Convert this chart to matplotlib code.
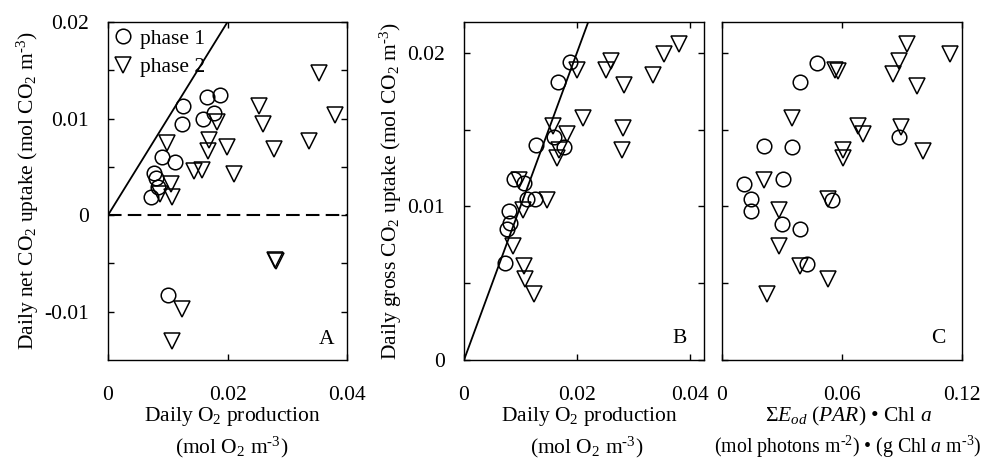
import numpy as np
import matplotlib
matplotlib.use('Agg')
import matplotlib.pyplot as plt

plt.rcParams['font.family'] = ['Liberation Serif', 'DejaVu Serif']
plt.rcParams['mathtext.fontset'] = 'custom'
plt.rcParams['mathtext.rm'] = 'Liberation Serif'
plt.rcParams['mathtext.it'] = 'Liberation Serif:italic'
plt.rcParams['mathtext.default'] = 'rm'

#---------------------------------------- data ----------------------------------------
# Panel A: daily O2 production vs daily net CO2 uptake
a_o2_p1 = [0.01256, 0.01244, 0.0166, 0.01878, 0.01767, 0.01589, 0.00911, 0.01117,
           0.00767, 0.008, 0.00839, 0.00717, 0.01006]
a_net_p1 = [0.0113, 0.0094, 0.01226, 0.01244, 0.0106, 0.00991, 0.00604, 0.00553,
            0.00432, 0.0038, 0.00294, 0.00183, -0.00829]
a_o2_p2 = [0.01822, 0.01683, 0.01672, 0.01989, 0.00989, 0.01439, 0.01578, 0.02106,
           0.01061, 0.00867, 0.01072, 0.02522, 0.02589, 0.02783, 0.03356, 0.03533,
           0.038, 0.0279, 0.0281, 0.01244, 0.01078]
a_net_p2 = [0.00967, 0.00777, 0.00663, 0.00701, 0.00743, 0.00456, 0.00466, 0.00425,
            0.00318, 0.00218, 0.00183, 0.0113, 0.00943, 0.00684, 0.00767, 0.01475,
            0.01036, -0.00468, -0.00478, -0.00967, -0.01303]

# Panel B: daily O2 production vs daily gross CO2 uptake
b_o2_p1 = [0.01876, 0.01658, 0.01274, 0.01593, 0.01776, 0.0089, 0.01062, 0.0112,
           0.01257, 0.00796, 0.00814, 0.00767, 0.00726]
b_gross_p1 = [0.01942, 0.01812, 0.0140, 0.0145, 0.01385, 0.0118, 0.01151, 0.01045,
              0.01045, 0.0097, 0.00892, 0.00855, 0.00632]
b_o2_p2 = [0.01994, 0.02608, 0.02507, 0.02832, 0.0335, 0.0354, 0.038, 0.02112,
           0.02808, 0.0279, 0.0158, 0.01817, 0.01687, 0.01652, 0.00973, 0.01463,
           0.0105, 0.00873, 0.01062, 0.0108, 0.01239]
b_gross_p2 = [0.01887, 0.01948, 0.01887, 0.0179, 0.01857, 0.01991, 0.02056, 0.01573,
              0.0151, 0.01364, 0.01526, 0.01472, 0.01368, 0.01316, 0.01169, 0.01043,
              0.00978, 0.0074, 0.0061, 0.0053, 0.00429]

# Panel C: sum Eod(PAR) * Chl a vs daily gross CO2 uptake
c_light_p1 = [0.04733, 0.039, 0.02117, 0.03517, 0.0885, 0.03033, 0.011, 0.0145,
              0.0145, 0.05483, 0.03017, 0.039, 0.04233]
c_gross_p1 = [0.01933, 0.01807, 0.01396, 0.01385, 0.0145, 0.0118, 0.01147, 0.01045,
              0.0097, 0.01043, 0.00887, 0.00855, 0.00628]
c_light_p2 = [0.09267, 0.114, 0.0885, 0.08567, 0.09733, 0.0565, 0.05783, 0.03517,
              0.06783, 0.07067, 0.0895, 0.10067, 0.06033, 0.06067, 0.021, 0.05317,
              0.02867, 0.02867, 0.039, 0.05317, 0.02233]
c_gross_p2 = [0.02056, 0.01991, 0.01944, 0.01861, 0.01786, 0.01887, 0.01883, 0.01576,
              0.01526, 0.01472, 0.01515, 0.01359, 0.0137, 0.01316, 0.01169, 0.0105,
              0.00978, 0.0074, 0.0061, 0.00524, 0.00429]

one_to_one = [0, 0.03]  # 1:1 line

#---------------------------------------- plotting ----------------------------------------
FS = 15.5
W, H = 990, 462
fig = plt.figure(figsize=(9.9, 4.62), dpi=100)
axA = fig.add_axes([108/W, 102/H, 239/W, 338/H])
axB = fig.add_axes([464/W, 102/H, 240/W, 338/H])
axC = fig.add_axes([722/W, 102/H, 240/W, 338/H])

mk = dict(linestyle='none', mfc='none', mec='black', mew=1.1)
o2_name = 'Daily O$_2$ production'
o2_unit = '(mol O$_2$ m$^{\\text{-3}}$)'


def draw(ax, x1, y1, x2, y2):
    ax.plot(x1, y1, marker='o', ms=10.5, label='phase 1', **mk)
    ax.plot(x2, y2, marker='v', ms=11, label='phase 2', **mk)
    ax.tick_params(direction='in', length=4.5, width=1, top=True, labelsize=FS, pad=8)
    ax.tick_params(axis='x', pad=19)
    for s in ax.spines.values():
        s.set_linewidth(1)


def xlabel2(xpix, line1, line2, xpix2=None, fs2=FS):
    # two-line x label placed in figure pixels
    fig.text(xpix / W, 1 - 416 / H, line1, fontsize=FS, ha='center', va='center')
    fig.text((xpix2 or xpix) / W, 1 - 447 / H, line2, fontsize=fs2, ha='center', va='center')


draw(axA, a_o2_p1, a_net_p1, a_o2_p2, a_net_p2)
axA.plot(one_to_one, one_to_one, color='black', lw=1.3)
axA.axhline(0, color='black', lw=1.5, dashes=(6.5, 3))
axA.set_xlim(0, 0.04)
axA.set_ylim(-0.015, 0.02)
axA.set_xticks([0, 0.02, 0.04])
axA.set_xticklabels(['0', '0.02', '0.04'])
axA.set_yticks([-0.01, -0.005, 0, 0.005, 0.01, 0.015, 0.02])
axA.set_yticklabels(['-0.01', '', '0', '', '0.01', '', '0.02'])
axA.tick_params(axis='y', right=True, pad=14)
axA.set_ylabel('Daily net CO$_2$ uptake (mol CO$_2$ m$^{\\text{-3}}$)', fontsize=FS, labelpad=2)
axA.text(0.915, 0.06, 'A', transform=axA.transAxes, fontsize=FS, ha='center', va='center')
axA.legend(loc='upper left', frameon=False, fontsize=FS, handlelength=0.8, handletextpad=0.4,
           labelspacing=0.4, borderaxespad=0.0, borderpad=0.3)
xlabel2(232, o2_name, o2_unit)

draw(axB, b_o2_p1, b_gross_p1, b_o2_p2, b_gross_p2)
axB.plot(one_to_one, one_to_one, color='black', lw=1.3)
axB.set_xlim(0, 0.0425)
axB.set_ylim(0, 0.022)
axB.set_xticks([0, 0.02, 0.04])
axB.set_xticklabels(['0', '0.02', '0.04'])
axB.set_yticks([0, 0.005, 0.01, 0.015, 0.02])
axB.set_yticklabels(['0', '', '0.01', '', '0.02'])
axB.tick_params(axis='y', right=True, pad=14)
axB.set_ylabel('Daily gross CO$_2$ uptake (mol CO$_2$ m$^{\\text{-3}}$)', fontsize=FS, labelpad=2)
axB.text(0.9, 0.065, 'B', transform=axB.transAxes, fontsize=FS, ha='center', va='center')
xlabel2(589, o2_name, o2_unit, 587)

draw(axC, c_light_p1, c_gross_p1, c_light_p2, c_gross_p2)
axC.set_xlim(0, 0.12)
axC.set_ylim(0, 0.022)
axC.set_xticks([0, 0.06, 0.12])
axC.set_xticklabels(['0', '0.06', '0.12'])
axC.set_yticks([0, 0.005, 0.01, 0.015, 0.02])
axC.set_yticklabels([])
axC.text(0.9, 0.065, 'C', transform=axC.transAxes, fontsize=FS, ha='center', va='center')
xlabel2(848, '$\\Sigma \\mathit{E}_{\\mathit{od}}$ $\\mathit{(PAR)}$ \u2022 Chl $\\mathit{a}$',
        '(mol photons m$^{\\text{-2}}$) \u2022 (g Chl $\\mathit{a}$ m$^{\\text{-3}}$)', 848, fs2=14.3)

fig.savefig('out.png', dpi=100)
